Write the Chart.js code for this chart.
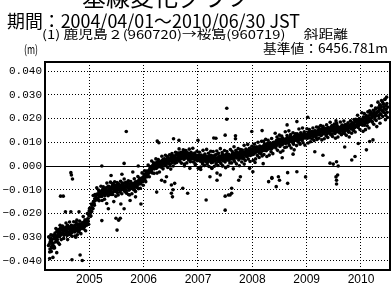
<!DOCTYPE html>
<html><head><meta charset="utf-8">
<script src="https://cdn.jsdelivr.net/npm/chart.js@4.4.1/dist/chart.umd.min.js"></script>
<style>
html,body{margin:0;padding:0;background:#fff;}
#wrap{position:relative;width:392px;height:285px;overflow:hidden;background:#fff;}
#c{position:absolute;left:0;top:0;}
.t{position:absolute;white-space:nowrap;line-height:1;color:#000;font-family:"Noto Sans CJK JP","Noto Sans",sans-serif;transform-origin:0 0;}
</style></head><body>
<div id="wrap">
<canvas id="c" width="392" height="285"></canvas>
<div class="t" data-w="168" style="left:82px;top:-16px;font-size:24px">基線変化グラフ</div>
<div class="t" data-w="293" style="left:7px;top:11px;font-size:18px">期間：2004/04/01～2010/06/30 JST</div>
<div class="t" data-w="306" style="left:42px;top:28px;font-size:12px">(1) 鹿児島２(960720)→桜島(960719)　 斜距離</div>
<div class="t" data-w="14" style="left:24px;top:43px;font-size:12px">(m)</div>
<div class="t" data-w="125" style="left:263px;top:41px;font-size:13px">基準値：6456.781m</div>
</div>
<script>
// ---- data (values in m) ----
const sampleStepDays = 4;
const segmentStarts = ["2004-04-01","2005-01-01","2006-01-01","2007-01-01","2008-01-01","2009-01-01","2010-01-01"];
const segmentOffsetB = 2; // second sample set starts 2 days later in each segment
const band2004 = [-0.0335,-0.0300,-0.0362,-0.0318,-0.0290,-0.0345,-0.0310,-0.0328,-0.0296,-0.0338,
-0.0305,-0.0282,-0.0320,-0.0298,-0.0275,-0.0310,-0.0288,-0.0268,-0.0295,
-0.0278,-0.0262,-0.0290,-0.0270,-0.0283,-0.0255,-0.0276,-0.0292,-0.0265,
-0.0272,-0.0258,-0.0285,-0.0268,-0.0250,-0.0279,-0.0263,-0.0288,-0.0270,-0.0256,-0.0274,-0.0282,-0.0260,-0.0271,
-0.0266,-0.0252,-0.0278,-0.0259,-0.0270,-0.0248,-0.0263,-0.0275,-0.0255,-0.0244,-0.0268,-0.0257,-0.0249,-0.0262,
-0.0252,-0.0240,-0.0262,-0.0246,-0.0235,-0.0255,-0.0241,-0.0230,-0.0248,
-0.0236,-0.0222,-0.0245,-0.0210];
const band2005 = [-0.0205,-0.0188,-0.0212,-0.0176,-0.0192,
-0.0165,-0.0180,-0.0150,-0.0158,-0.0138,
-0.0145,-0.0128,-0.0135,-0.0118,-0.0140,-0.0122,-0.0110,-0.0130,-0.0116,
-0.0120,-0.0105,-0.0128,-0.0112,-0.0098,-0.0118,-0.0108,-0.0125,-0.0100,-0.0092,-0.0115,-0.0104,-0.0088,-0.0110,-0.0097,-0.0120,-0.0093,-0.0102,
-0.0098,-0.0085,-0.0110,-0.0092,-0.0078,-0.0100,-0.0088,-0.0105,-0.0082,-0.0095,-0.0112,-0.0086,-0.0075,-0.0098,-0.0090,-0.0080,-0.0102,-0.0089,
-0.0092,-0.0078,-0.0100,-0.0086,-0.0072,-0.0095,-0.0083,-0.0105,-0.0080,-0.0090,-0.0070,-0.0088,-0.0098,-0.0079,-0.0086,-0.0093,-0.0075,-0.0089,
-0.0082,-0.0095,-0.0074,-0.0088,-0.0068,-0.0080,-0.0090,-0.0070,-0.0078,-0.0062,-0.0075,
-0.0068,-0.0058,-0.0075,-0.0060,-0.0052,-0.0066,-0.0048,-0.0056];
const band2006 = [-0.0052,-0.0040,-0.0058,-0.0035,-0.0045,-0.0028,-0.0038,-0.0022,-0.0032,-0.0018,
-0.0025,-0.0010,-0.0020,-0.0005,-0.0015,0.0002,-0.0008,0.0005,-0.0012,
0.0000,0.0012,-0.0006,0.0008,0.0018,-0.0002,0.0010,0.0004,0.0016,
0.0008,0.0020,0.0002,0.0014,0.0026,0.0010,0.0018,0.0030,0.0006,0.0022,0.0015,0.0028,0.0012,0.0035,0.0020,0.0008,0.0025,0.0030,
0.0022,0.0035,0.0015,0.0030,0.0042,0.0026,0.0038,0.0020,0.0045,0.0032,0.0050,0.0028,0.0040,0.0055,0.0035,0.0046,0.0030,0.0052,
0.0048,0.0036,0.0058,0.0042,0.0030,0.0050,0.0040,0.0062,0.0035,0.0045,0.0055,0.0032,0.0048,0.0038,0.0052,0.0028,0.0044,0.0036,0.0050,
0.0040,0.0030,0.0048,0.0035,0.0025,0.0042,0.0032,0.0045,0.0028];
const band2007 = [0.0032,0.0045,0.0025,0.0038,0.0020,0.0035,0.0042,0.0028,0.0015,0.0036,0.0030,0.0044,0.0022,0.0033,0.0026,0.0040,0.0018,0.0031,
0.0028,0.0040,0.0020,0.0034,0.0045,0.0025,0.0030,0.0016,0.0038,0.0027,0.0042,0.0022,0.0032,0.0048,0.0024,0.0035,0.0019,0.0030,0.0040,
0.0033,0.0025,0.0042,0.0030,0.0048,0.0022,0.0036,0.0028,0.0045,0.0035,0.0026,0.0040,0.0050,0.0032,0.0038,0.0024,0.0044,0.0036,
0.0040,0.0030,0.0048,0.0036,0.0052,0.0028,0.0044,0.0055,0.0038,0.0046,0.0034,0.0058,0.0042,0.0050,0.0036,0.0047,0.0060,0.0043,
0.0050,0.0040,0.0058,0.0046,0.0035,0.0055,0.0048,0.0062,0.0042,0.0052,0.0066,0.0045,0.0056,0.0050,0.0064,0.0044,0.0058,0.0070,0.0054];
const band2008 = [0.0058,0.0068,0.0050,0.0064,0.0075,0.0056,0.0070,0.0062,0.0080,0.0060,0.0072,0.0066,0.0055,0.0078,0.0068,0.0074,0.0062,0.0082,
0.0072,0.0085,0.0066,0.0080,0.0090,0.0074,0.0086,0.0070,0.0094,0.0080,0.0088,0.0076,0.0098,0.0084,0.0072,0.0092,0.0086,0.0080,0.0096,
0.0090,0.0100,0.0082,0.0096,0.0108,0.0088,0.0102,0.0094,0.0114,0.0098,0.0106,0.0090,0.0110,0.0100,0.0118,0.0096,0.0108,0.0104,
0.0106,0.0095,0.0115,0.0102,0.0120,0.0108,0.0098,0.0116,0.0110,0.0124,0.0104,0.0112,0.0100,0.0120,0.0114,0.0106,0.0126,0.0110,
0.0118,0.0108,0.0126,0.0114,0.0130,0.0120,0.0110,0.0128,0.0116,0.0134,0.0122,0.0112,0.0130,0.0124,0.0138,0.0118,0.0128,0.0132,0.0122];
const band2009 = [0.0130,0.0120,0.0138,0.0126,0.0142,0.0132,0.0118,0.0136,0.0128,0.0145,0.0134,0.0124,0.0140,0.0130,0.0148,0.0136,0.0126,0.0142,
0.0138,0.0150,0.0132,0.0146,0.0156,0.0140,0.0128,0.0152,0.0144,0.0160,0.0136,0.0148,0.0154,0.0142,0.0158,0.0146,0.0134,0.0152,0.0162,
0.0150,0.0140,0.0158,0.0146,0.0164,0.0152,0.0136,0.0156,0.0148,0.0166,0.0154,0.0142,0.0160,0.0150,0.0168,0.0146,0.0158,0.0152,
0.0156,0.0144,0.0162,0.0150,0.0168,0.0158,0.0140,0.0164,0.0154,0.0172,0.0148,0.0160,0.0166,0.0152,0.0170,0.0158,0.0146,0.0164,
0.0162,0.0176,0.0156,0.0170,0.0182,0.0164,0.0178,0.0160,0.0186,0.0172,0.0166,0.0184,0.0176,0.0192,0.0170,0.0182,0.0196,0.0178,0.0188];
const band2010 = [0.0184,0.0196,0.0176,0.0192,0.0205,0.0186,0.0172,0.0200,0.0190,0.0212,0.0182,0.0198,0.0208,0.0188,
0.0202,0.0216,0.0194,0.0225,0.0206,0.0186,0.0220,0.0210,0.0232,0.0198,0.0218,0.0240,0.0212,0.0226,
0.0228,0.0245,0.0212,0.0236,0.0258,0.0220,0.0250,0.0235,0.0270,0.0228,0.0262,0.0242,0.0280,0.0238,0.0255,0.0290,0.0226,0.0248];
// second sample set (2 days later), the wider part of the scatter
const band2004b = [-0.0298,-0.0328,-0.0350,-0.0308,-0.0317,-0.0338,-0.0292,-0.0325,-0.0345,-0.0305,
-0.0289,-0.0307,-0.0263,-0.0315,-0.0295,-0.0277,-0.0323,-0.0286,-0.0298,
-0.0250,-0.0290,-0.0310,-0.0264,-0.0253,-0.0283,-0.0305,-0.0263,-0.0272,
-0.0286,-0.0240,-0.0273,-0.0293,-0.0253,-0.0262,-0.0280,-0.0236,-0.0288,-0.0268,-0.0250,-0.0296,-0.0259,-0.0271,
-0.0235,-0.0275,-0.0295,-0.0249,-0.0238,-0.0268,-0.0290,-0.0248,-0.0257,-0.0278,-0.0232,-0.0265,-0.0285,-0.0245,
-0.0239,-0.0257,-0.0213,-0.0265,-0.0245,-0.0227,-0.0273,-0.0236,-0.0248,
-0.0200,-0.0230,-0.0245,-0.0189];
const band2005b = [-0.0178,-0.0198,-0.0210,-0.0160,-0.0162,
-0.0178,-0.0124,-0.0150,-0.0165,-0.0120,
-0.0122,-0.0138,-0.0092,-0.0142,-0.0120,-0.0101,-0.0146,-0.0108,-0.0119,
-0.0085,-0.0125,-0.0145,-0.0099,-0.0088,-0.0118,-0.0140,-0.0098,-0.0107,-0.0118,-0.0072,-0.0105,-0.0125,-0.0085,-0.0094,-0.0112,-0.0068,-0.0120,
-0.0092,-0.0074,-0.0120,-0.0083,-0.0095,-0.0067,-0.0107,-0.0127,-0.0081,-0.0070,-0.0100,-0.0122,-0.0080,-0.0089,-0.0110,-0.0064,-0.0097,-0.0117,
-0.0072,-0.0081,-0.0099,-0.0055,-0.0107,-0.0087,-0.0069,-0.0115,-0.0078,-0.0090,-0.0062,-0.0102,-0.0122,-0.0076,-0.0065,-0.0095,-0.0117,-0.0075,
-0.0079,-0.0100,-0.0054,-0.0087,-0.0107,-0.0067,-0.0070,-0.0088,-0.0044,-0.0096,-0.0076,
-0.0052,-0.0094,-0.0053,-0.0061,-0.0029,-0.0065,-0.0081];
const band2006b = [-0.0034,-0.0020,-0.0047,-0.0066,-0.0021,-0.0027,-0.0045,0.0004,-0.0027,-0.0045,
-0.0002,-0.0009,-0.0025,0.0021,-0.0029,-0.0007,0.0013,-0.0031,0.0008,
0.0002,0.0030,-0.0010,-0.0030,0.0016,0.0027,-0.0003,-0.0025,0.0017,
0.0016,-0.0005,0.0041,0.0008,-0.0012,0.0028,0.0019,0.0001,0.0045,0.0002,0.0022,0.0040,-0.0006,0.0031,0.0019,0.0047,0.0007,-0.0013,
0.0041,0.0052,0.0022,0.0000,0.0042,0.0033,0.0012,0.0058,0.0025,0.0015,0.0055,0.0046,0.0028,0.0072,0.0020,0.0040,0.0058,0.0012,
0.0052,0.0040,0.0068,0.0028,0.0008,0.0054,0.0065,0.0035,0.0013,0.0055,0.0046,0.0025,0.0071,0.0038,0.0018,0.0058,0.0049,0.0031,0.0075,
0.0017,0.0037,0.0055,0.0009,0.0046,0.0034,0.0062,0.0022];
const band2007b = [-0.0010,0.0045,0.0058,0.0022,-0.0004,0.0046,0.0036,0.0010,0.0066,0.0026,0.0002,0.0050,0.0039,0.0018,0.0070,0.0008,0.0032,0.0054,
-0.0002,0.0043,0.0028,0.0062,0.0014,-0.0010,0.0042,0.0061,0.0022,-0.0001,0.0046,0.0033,0.0010,0.0063,0.0026,0.0002,0.0053,0.0039,0.0018,
0.0073,0.0011,0.0035,0.0057,0.0001,0.0046,0.0031,0.0065,0.0017,-0.0007,0.0048,0.0061,0.0025,-0.0001,0.0049,0.0039,0.0013,0.0069,
0.0037,0.0013,0.0061,0.0050,0.0029,0.0081,0.0019,0.0043,0.0065,0.0009,0.0054,0.0039,0.0073,0.0025,0.0001,0.0056,0.0069,0.0033,
0.0017,0.0067,0.0057,0.0031,0.0087,0.0047,0.0023,0.0071,0.0060,0.0039,0.0091,0.0029,0.0053,0.0075,0.0019,0.0064,0.0049,0.0083];
const band2008b = [0.0048,0.0024,0.0079,0.0092,0.0056,0.0030,0.0080,0.0070,0.0044,0.0100,0.0060,0.0036,0.0084,0.0073,0.0052,0.0104,0.0042,0.0066,
0.0104,0.0048,0.0093,0.0078,0.0112,0.0064,0.0040,0.0095,0.0108,0.0072,0.0046,0.0096,0.0086,0.0060,0.0116,0.0076,0.0052,0.0100,0.0089,
0.0086,0.0138,0.0076,0.0100,0.0122,0.0066,0.0111,0.0096,0.0130,0.0082,0.0058,0.0113,0.0126,0.0090,0.0064,0.0114,0.0104,0.0078,
0.0144,0.0104,0.0080,0.0128,0.0117,0.0096,0.0148,0.0086,0.0110,0.0132,0.0076,0.0121,0.0106,0.0140,0.0092,0.0068,0.0123,0.0136,
0.0112,0.0086,0.0136,0.0126,0.0100,0.0156,0.0116,0.0092,0.0140,0.0129,0.0108,0.0160,0.0098,0.0122,0.0144,0.0088,0.0133,0.0118];
const band2009b = [0.0157,0.0117,0.0097,0.0143,0.0154,0.0124,0.0102,0.0144,0.0135,0.0114,0.0160,0.0127,0.0107,0.0147,0.0138,0.0120,0.0164,0.0112,
0.0145,0.0163,0.0117,0.0154,0.0142,0.0170,0.0130,0.0110,0.0156,0.0167,0.0137,0.0115,0.0157,0.0148,0.0127,0.0173,0.0140,0.0120,0.0160,
0.0158,0.0140,0.0184,0.0132,0.0152,0.0170,0.0124,0.0161,0.0149,0.0177,0.0137,0.0117,0.0163,0.0174,0.0144,0.0122,0.0164,0.0155,
0.0139,0.0185,0.0152,0.0132,0.0172,0.0163,0.0145,0.0189,0.0137,0.0157,0.0175,0.0129,0.0166,0.0154,0.0182,0.0142,0.0122,0.0168,
0.0190,0.0160,0.0138,0.0180,0.0171,0.0150,0.0196,0.0163,0.0143,0.0197,0.0188,0.0170,0.0214,0.0162,0.0182,0.0200,0.0154,0.0191];
const band2010b = [0.0188,0.0224,0.0172,0.0146,0.0206,0.0221,0.0182,0.0153,0.0208,0.0196,0.0169,0.0228,0.0186,0.0160,
0.0232,0.0220,0.0196,0.0254,0.0186,0.0212,0.0235,0.0176,0.0224,0.0208,0.0244,0.0192,0.0166,0.0226,
0.0269,0.0230,0.0201,0.0256,0.0244,0.0217,0.0276,0.0234,0.0208,0.0260,0.0248,0.0224,0.0282,0.0214,0.0240,0.0263,0.0204];
const outlierYear = [2004.27,2004.33,2004.40,2004.47,2004.52,2004.56,2004.66,2004.66,2004.67,2004.69,2004.68,2004.77,2004.81,2004.83,2004.87,2004.30,2004.36,2004.45,2004.60,2004.75,
2005.23,2005.23,2005.32,2005.35,2005.45,2005.49,2005.51,2005.54,2005.57,2005.58,2005.64,2005.64,2005.68,2005.72,2005.75,2005.85,2005.95,2005.40,2005.60,2005.80,2005.90,
2006.24,2006.25,2006.28,2006.33,2006.39,2006.42,2006.51,2006.51,2006.53,2006.54,2006.55,2006.57,2006.65,2006.72,2006.75,2006.81,2006.85,2006.95,
2007.00,2007.05,2007.12,2007.15,2007.22,2007.25,2007.29,2007.33,2007.35,2007.35,2007.41,2007.45,2007.50,2007.50,2007.50,2007.53,2007.53,2007.56,2007.59,2007.62,2007.62,2007.65,2007.69,2007.69,2007.75,2007.78,2007.85,2007.95,2007.99,
2008.01,2008.05,2008.18,2008.20,2008.30,2008.36,2008.36,2008.44,2008.48,2008.50,2008.55,2008.64,2008.65,2008.65,2008.75,2008.82,2008.82,2008.98,
2009.02,2009.15,2009.30,2009.43,2009.49,2009.54,2009.54,2009.55,2009.55,2009.55,2009.55,2009.57,2009.58,2009.70,2009.83,2009.89,2009.95,
2010.10,2010.16,2010.22,2010.35,2010.45];
const outlierValue = [-0.0390,-0.0385,-0.0365,-0.0127,-0.0127,-0.0193,-0.0193,-0.0028,-0.0038,-0.0055,-0.0395,-0.0228,-0.0193,-0.0375,-0.0398,-0.0360,-0.0345,-0.0330,-0.0310,-0.0300,
0.0000,-0.0230,-0.0158,-0.0180,-0.0150,-0.0220,-0.0270,-0.0228,-0.0220,-0.0160,-0.0180,0.0011,0.0145,-0.0120,-0.0145,-0.0130,-0.0160,-0.0040,-0.0035,-0.0025,0.0000,
-0.0110,0.0105,0.0098,-0.0060,-0.0066,-0.0045,-0.0115,-0.0080,-0.0130,-0.0100,0.0115,-0.0073,0.0108,-0.0094,0.0000,-0.0115,-0.0010,0.0005,
0.0108,-0.0015,0.0002,-0.0143,-0.0045,-0.0008,0.0118,0.0117,-0.0030,-0.0060,-0.0038,0.0000,-0.0186,-0.0127,0.0130,0.0243,0.0197,-0.0122,-0.0122,-0.0094,-0.0115,-0.0012,0.0115,0.0127,-0.0060,-0.0045,0.0008,-0.0010,0.0145,
-0.0024,0.0015,0.0149,0.0010,-0.0066,-0.0052,-0.0049,-0.0087,-0.0045,-0.0060,0.0035,0.0173,-0.0073,-0.0028,0.0050,0.0187,-0.0024,-0.0046,
0.0205,0.0060,0.0045,0.0012,0.0008,0.0190,-0.0046,0.0180,0.0018,-0.0060,-0.0076,-0.0038,0.0000,0.0080,0.0025,0.0040,0.0095,
0.0068,0.0103,0.0110,0.0180,0.0195];
const yTickValues = [-0.04,-0.03,-0.02,-0.01,0,0.01,0.02,0.03,0.04];
const xTickYears = [2005,2006,2007,2008,2009,2010];
const xMin = 2004.184, xMax = 2010.534;
const yMin = -0.0438, yMax = 0.0438;

// ---- build points ----
function decimalYear(d){
  const y = d.getUTCFullYear();
  const s = Date.UTC(y,0,1), e = Date.UTC(y+1,0,1);
  return y + (d.getTime()-s)/(e-s);
}
const points = [];
function addSegments(segments, offsetDays){
  segments.forEach((vals, k) => {
    const start = new Date(segmentStarts[k]+"T00:00:00Z");
    vals.forEach((v, i) => {
      const d = new Date(start.getTime() + (offsetDays + i*sampleStepDays)*86400000);
      points.push({x: decimalYear(d), y: v});
    });
  });
}
addSegments([band2004,band2005,band2006,band2007,band2008,band2009,band2010], 0);
addSegments([band2004b,band2005b,band2006b,band2007b,band2008b,band2009b,band2010b], segmentOffsetB);
outlierYear.forEach((x, i) => points.push({x: x, y: outlierValue[i]}));

// fit header widths
document.querySelectorAll('.t').forEach(el => {
  const w = el.getBoundingClientRect().width;
  const target = parseFloat(el.dataset.w);
  if (w > 0) el.style.transform = 'scaleX(' + (target / w) + ')';
});

const framePlugin = {
  id: 'frame',
  beforeDatasetsDraw(chart){
    const {ctx, chartArea:a, scales:{y}} = chart;
    const y0 = Math.round(y.getPixelForValue(0)) + 0.5;
    ctx.save(); ctx.strokeStyle = '#000'; ctx.lineWidth = 1; ctx.setLineDash([]);
    ctx.beginPath(); ctx.moveTo(a.left, y0); ctx.lineTo(a.right, y0); ctx.stroke();
    ctx.restore();
  },
  afterDraw(chart){
    const {ctx, chartArea:a} = chart;
    ctx.save(); ctx.strokeStyle = '#000'; ctx.lineWidth = 2; ctx.setLineDash([]);
    ctx.strokeRect(a.left, a.top, a.right - a.left, a.bottom - a.top);
    ctx.restore();
  }
};

new Chart(document.getElementById('c'), {
  type: 'scatter',
  data: { datasets: [{ data: points, backgroundColor: '#000', borderWidth: 0, pointRadius: 1.8, pointHoverRadius: 1.8 }] },
  options: {
    responsive: false, animation: false, devicePixelRatio: 1,
    layout: { padding: { top: 62, right: 2, left: 0, bottom: 0 } },
    plugins: { legend: { display: false }, tooltip: { enabled: false } },
    scales: {
      x: {
        type: 'linear', min: xMin, max: xMax,
        afterBuildTicks: s => { s.ticks = xTickYears.map(v => ({value: v})); },
        afterFit: s => { s.height = 15; },
        ticks: { callback: v => String(v), color: '#000', font: { family: 'Liberation Sans', size: 12 }, padding: 2, maxRotation: 0, autoSkip: false },
        grid: { color: '#000', lineWidth: 1, drawTicks: false },
        border: { display: false, dash: [1, 2] }
      },
      y: {
        type: 'linear', min: yMin, max: yMax,
        afterBuildTicks: s => { s.ticks = yTickValues.map(v => ({value: v})); },
        afterFit: s => { s.width = 45; },
        ticks: { callback: v => v.toFixed(3).replace('-', '−'), color: '#000', font: { family: 'Liberation Mono', size: 11 }, padding: 3, autoSkip: false },
        grid: { color: '#000', lineWidth: 1, drawTicks: false },
        border: { display: false, dash: [1, 2] }
      }
    }
  },
  plugins: [framePlugin]
});
</script>
</body></html>
